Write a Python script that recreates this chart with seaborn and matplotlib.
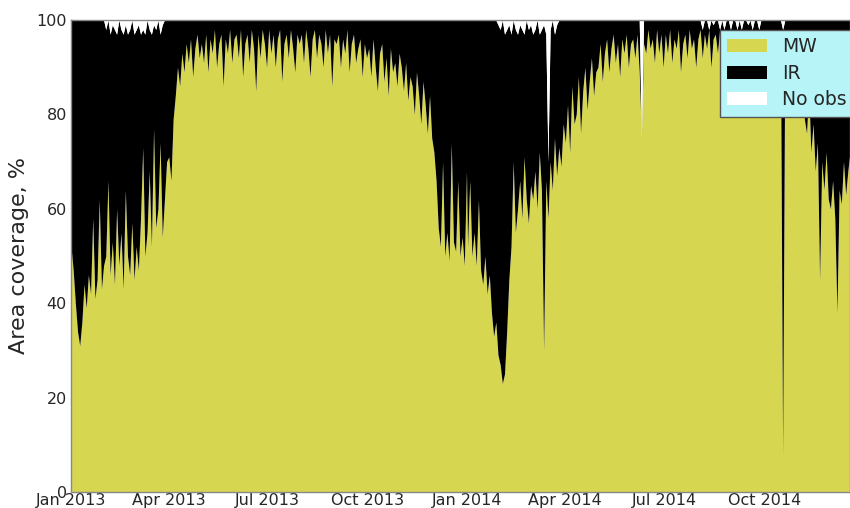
import numpy as np
import pandas as pd
import seaborn as sns
import matplotlib.pyplot as plt
import matplotlib.dates as mdates

# MW area coverage (%), one value every 2 days, one row per month
MW_2013 = [
    52, 47, 40, 34, 31, 36, 44, 39, 46, 42, 58, 41, 45, 62, 43, 48,  # Jan
    50, 66, 46, 53, 44, 60, 48, 55, 43, 64, 50, 46, 57, 45,  # Feb
    52, 47, 58, 73, 50, 55, 68, 52, 77, 56, 60, 74, 54, 62, 70,  # Mar
    71, 66, 79, 84, 90, 86, 93, 89, 95, 91, 96, 88, 94, 97, 92,  # Apr
    95, 91, 97, 89, 96, 93, 98, 90, 95, 97, 86, 96, 93, 98, 91, 96,  # May
    97, 92, 98, 88, 95, 97, 91, 98, 94, 85, 97, 92, 98, 95, 90,  # Jun
    98, 93, 97, 90, 96, 98, 87, 95, 97, 92, 98, 94, 89, 97, 95,  # Jul
    97, 91, 98, 94, 88, 96, 98, 92, 97, 95, 90, 98, 93, 97, 86, 96,  # Aug
    95, 97, 90, 96, 93, 98, 89, 95, 97, 91, 94, 96, 88, 95, 92,  # Sep
    94, 88, 96, 90, 85, 93, 95, 87, 92, 84, 94, 89, 91, 86, 93,  # Oct
    90, 85, 91, 83, 88, 86, 80, 89, 84, 78, 87, 82, 76, 84, 75,  # Nov
    72, 66, 56, 52, 70, 50, 55, 49, 74, 53, 51, 66, 50, 54, 48, 68,  # Dec
]
MW_2014 = [
    52, 66, 50, 55, 48, 62, 47, 44, 50, 42, 46, 38, 33, 36, 29, 27,  # Jan
    23, 25, 34, 45, 52, 70, 55, 60, 66, 58, 71, 62, 57, 65,  # Feb
    62, 68, 60, 72, 64, 30, 66, 58, 70, 64, 75, 67, 73, 69, 78,  # Mar
    74, 82, 72, 86, 78, 80, 88, 76, 85, 90, 81, 87, 92, 84, 89,  # Apr
    90, 95, 87, 93, 96, 89, 94, 97, 91, 95, 88, 96, 93, 97, 90, 95,  # May
    96, 92, 97, 89, 75, 95, 93, 98, 94, 96, 91, 98, 93, 97, 90,  # Jun
    97, 93, 98, 91, 96, 94, 98, 89, 95, 97, 92, 98, 94, 96, 90,  # Jul
    96, 98, 92, 97, 94, 98, 90, 96, 97, 93, 98, 95, 91, 97, 94, 98,  # Aug
    95, 97, 91, 96, 98, 93, 95, 89, 97, 94, 96, 92, 98, 90, 95,  # Sep
    96, 92, 97, 94, 90, 96, 93, 95, 8, 94, 91, 96, 92, 95, 88,  # Oct
    90, 84, 88, 79, 76, 85, 72, 78, 68, 74, 45, 70, 64, 72, 62,  # Nov
    60, 66, 58, 38, 64, 61, 70, 63, 68, 72,  # Dec
]

# "No obs" (%): stretches with missing observations, 2-day steps from start
NOOBS_2013_START = "2013-02-02"
NOOBS_2013 = [2, 0, 3, 1, 2, 3, 0, 2, 3, 1, 3, 2, 0, 3, 2, 1, 3, 2, 3, 0,
              2, 3, 1, 2, 0, 3, 1, 0]
NOOBS_2014_START = "2014-01-29"
NOOBS_2014 = [1, 2, 0, 3, 2, 1, 3, 0, 2, 3, 1, 2, 3, 0, 2, 1, 3, 2, 0, 3,
              2, 1, 3, 30, 2, 0, 3, 1, 0]
NOOBS_SUMMER_START = "2014-08-03"
NOOBS_SUMMER = [0, 2, 0, 0, 3, 0, 1, 0, 0, 3, 0, 2, 0, 0, 3, 0, 0, 2, 0, 3,
                0, 0, 1, 0, 2, 0, 0, 2]
NOOBS_EXTRA_DATES = ["2014-06-10", "2014-10-18"]
NOOBS_EXTRA = [25, 2]

LABELS = ["MW", "IR", "No obs"]
COLORS = ["#d6d650", "#000000", "#ffffff"]
LEGEND_BG = "#b6f4f8"

sns.set_style("ticks")
plt.rcParams["font.family"] = ["DejaVu Sans"]


def build_frame():
    dates = pd.date_range("2013-01-01", periods=len(MW_2013), freq="2D").append(
        pd.date_range("2014-01-01", periods=len(MW_2014), freq="2D"))
    df = pd.DataFrame({"MW": np.array(MW_2013 + MW_2014, dtype=float)}, index=dates)
    df["No obs"] = 0.0
    for start, vals in [(NOOBS_2013_START, NOOBS_2013),
                        (NOOBS_2014_START, NOOBS_2014),
                        (NOOBS_SUMMER_START, NOOBS_SUMMER)]:
        idx = pd.date_range(start, periods=len(vals), freq="2D")
        df.loc[idx, "No obs"] = vals
    df.loc[pd.to_datetime(NOOBS_EXTRA_DATES), "No obs"] = NOOBS_EXTRA
    df["No obs"] = np.minimum(df["No obs"], 100 - df["MW"])
    df["IR"] = 100 - df["MW"] - df["No obs"]
    return df


def main():
    df = build_frame()

    fig = plt.figure(figsize=(8.5, 5.08), dpi=100)
    ax = fig.add_axes([71 / 850, 16 / 508, 779 / 850, 472 / 508])

    ax.stackplot(df.index, df["MW"], df["IR"], df["No obs"],
                 colors=COLORS, labels=LABELS, linewidth=0)

    ax.set_xlim(pd.Timestamp("2013-01-01"), pd.Timestamp("2014-12-19"))
    ax.set_ylim(0, 100)
    ax.set_yticks([0, 20, 40, 60, 80, 100])
    ax.xaxis.set_major_locator(mdates.MonthLocator(bymonth=[1, 4, 7, 10]))
    ax.xaxis.set_major_formatter(mdates.DateFormatter("%b %Y"))
    ax.tick_params(direction="in", length=4, labelsize=11.5, color="#888888")
    ax.tick_params(axis="x", pad=1)
    ax.tick_params(axis="y", pad=3)
    ax.set_ylabel("Area coverage, %", fontsize=16, labelpad=5)

    for side in ["top", "bottom", "left", "right"]:
        ax.spines[side].set_color("#888888")
        ax.spines[side].set_linewidth(1)

    leg = ax.legend(loc="upper left", bbox_to_anchor=(0.833, 0.979),
                    fontsize=13.5, frameon=True, fancybox=False,
                    handlelength=2.1, handleheight=0.7, labelspacing=0.4,
                    borderpad=0.4, handletextpad=0.8, borderaxespad=0)
    leg.get_frame().set_facecolor(LEGEND_BG)
    leg.get_frame().set_edgecolor("#555555")
    leg.get_frame().set_alpha(1)

    fig.savefig("out.png", dpi=100)
    plt.close(fig)


if __name__ == "__main__":
    main()
